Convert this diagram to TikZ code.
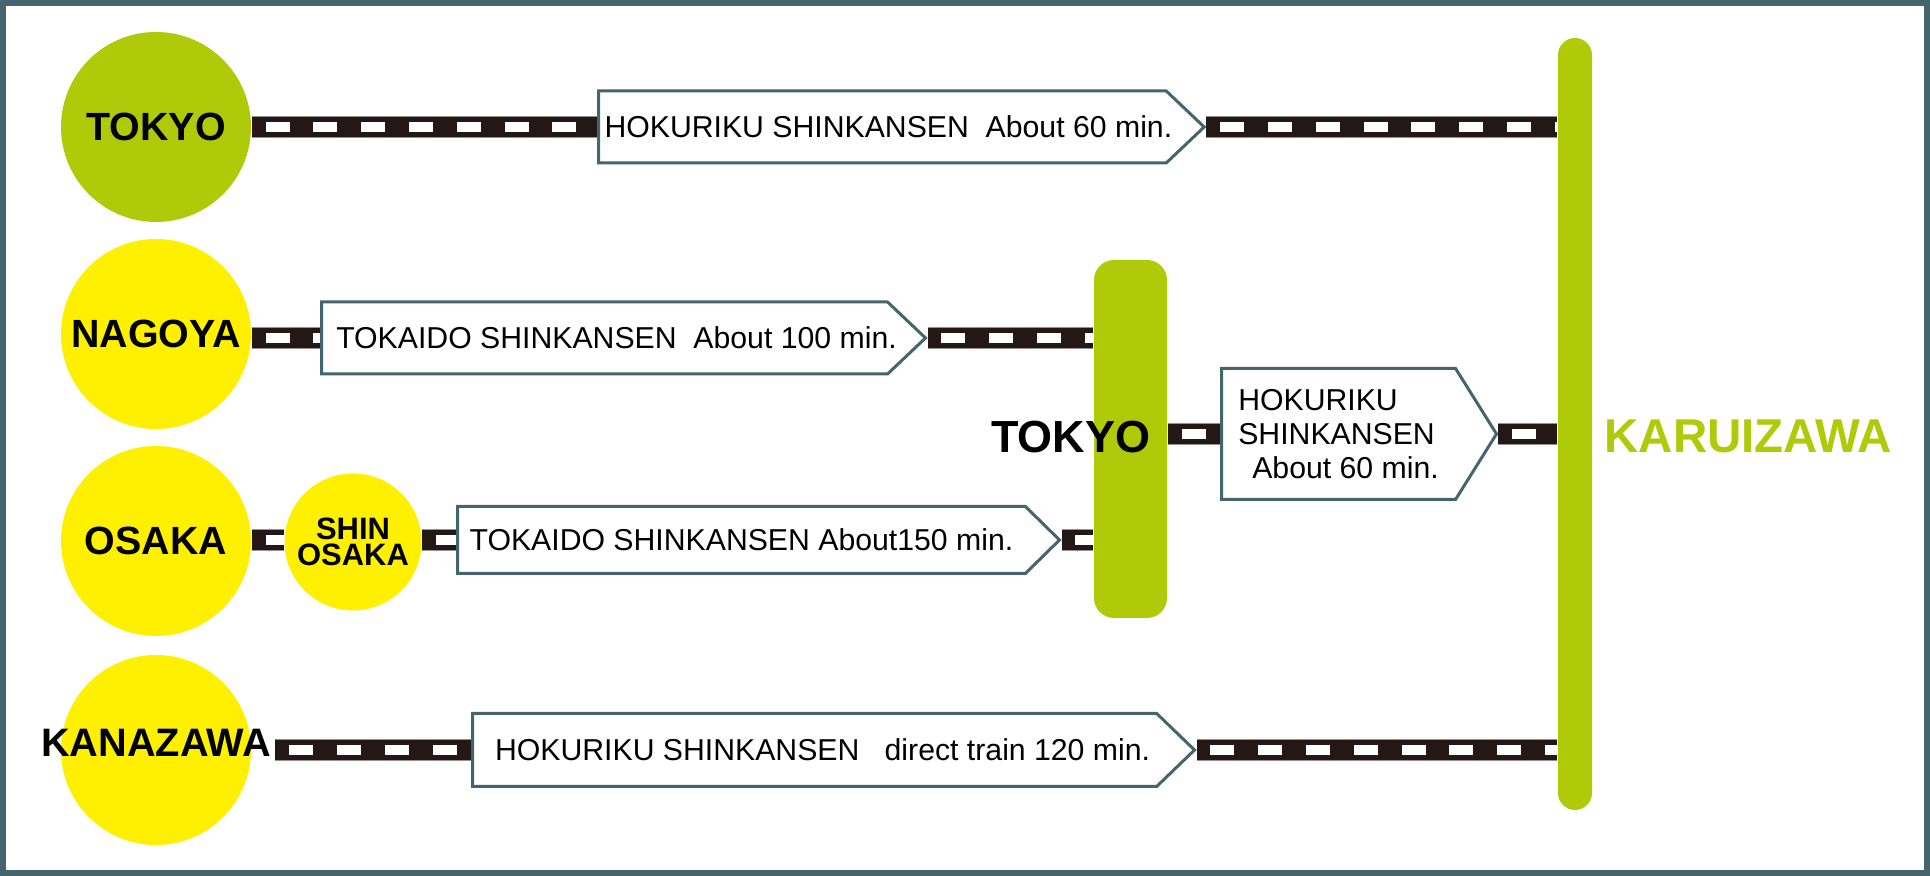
\documentclass[tikz,border=0pt]{standalone}
\usepackage{fontspec}
\setmainfont{Liberation Sans}
\usetikzlibrary{shapes.symbols,backgrounds}
\definecolor{slate}{RGB}{69,101,110}
\definecolor{leaf}{RGB}{174,202,8}
\definecolor{lemon}{RGB}{255,240,0}
\definecolor{railc}{RGB}{35,24,21}
\definecolor{railedge}{RGB}{150,146,145}
\newcommand\nudge[2]{\hspace*{#1}#2\hspace*{-#1}}
\begin{document}
\begin{tikzpicture}[
        station/.style={circle, minimum size=1.9cm, inner sep=0pt, font=\bfseries\fontsize{11.2}{12}\selectfont},
        tag/.style={signal, signal to=east, draw=slate, line width=0.03cm, fill=white, inner sep=0pt, anchor=west,
          align=left, font=\fontsize{8.6}{9.7}\selectfont},
        bar/.style={fill=leaf, inner sep=0pt},
        rail/.style={draw=railc, line width=0.2cm, preaction={draw=railedge, line width=0.22cm},
          postaction={draw=white, line width=0.1cm, dash pattern=on 0.24cm off 0.238cm, dash phase=0.34cm}}]
      \useasboundingbox (0,0) rectangle (19.30,-8.76);
      \draw[slate, line width=0.06cm] (0.03,-0.03) rectangle (19.27,-8.73);
      \node[station, fill=leaf]  (tokyo)  at (1.56,-1.27) {TOKYO};
      \node[station, fill=lemon] (nagoya) at (1.56,-3.34) {NAGOYA};
      \node[station, fill=lemon] (osaka)  at (1.56,-5.41) {OSAKA};
      \node[station, fill=lemon, minimum size=1.37cm, align=center, font=\bfseries\fontsize{8.8}{7.5}\selectfont]
        (shinosaka) at (3.53,-5.42) {SHIN\\OSAKA};
      \node[station, fill=lemon, label={[name=kanazawaname, yshift=0.07cm, inner sep=0.04cm,
          font=\bfseries\fontsize{11.3}{12}\selectfont]center:KANAZAWA}]
        (kanazawa) at (1.56,-7.50) {};
      \node[bar, rounded corners=0.2cm, minimum width=0.73cm, minimum height=3.58cm] (tokyobar) at (11.305,-4.39) {};
      \node[bar, rounded corners=0.17cm, minimum width=0.34cm, minimum height=7.72cm] (karuizawa) at (15.75,-4.24) {};
      \node[anchor=east, inner sep=0pt, font=\bfseries\fontsize{12.8}{14}\selectfont] (tokyoname) at (11.51,-4.37) {TOKYO};
      \node[anchor=west, inner sep=0pt, text=leaf, font=\bfseries\fontsize{13.5}{15}\selectfont] (karuizawaname) at (16.04,-4.36) {KARUIZAWA};
      \node[tag, signal pointer angle=87, minimum width=6.05cm, minimum height=0.72cm] (hok1) at (5.97,-1.27)
        {\nudge{0.06cm}{HOKURIKU SHINKANSEN\ \ About 60 min.}};
      \node[tag, signal pointer angle=87, minimum width=6.04cm, minimum height=0.72cm] (tok2) at (3.20,-3.38)
        {\nudge{0.12cm}{TOKAIDO SHINKANSEN\ \ About 100 min.}};
      \node[tag, signal pointer angle=89, minimum width=6.02cm, minimum height=0.67cm] (tok3) at (4.56,-5.40)
        {TOKAIDO SHINKANSEN About150 min.};
      \node[tag, signal pointer angle=116, minimum width=2.75cm, minimum height=1.31cm] (hok5) at (12.20,-4.34)
        {HOKURIKU\\SHINKANSEN\\\hspace{0.14cm}About 60 min.};
      \node[tag, signal pointer angle=88, minimum width=7.22cm, minimum height=0.73cm] (hok4) at (4.71,-7.50)
        {\nudge{0.08cm}{HOKURIKU SHINKANSEN\ \ \ direct train 120 min.}};
      \begin{pgfonlayer}{background}
        \draw[rail] (tokyo.east) -- (hok1.west);
        \draw[rail] (hok1.east) -- (hok1.east -| karuizawa.west);
        \draw[rail] (nagoya.east |- tok2.west) -- (tok2.west);
        \draw[rail] (tok2.east) -- (tok2.east -| tokyobar.west);
        \draw[rail] (osaka.east |- tok3.west) -- (shinosaka.west |- tok3.west);
        \draw[rail] (shinosaka.east |- tok3.west) -- (tok3.west);
        \draw[rail] (tok3.east) -- (tok3.east -| tokyobar.west);
        \draw[rail] (tokyobar.east |- hok5.west) -- (hok5.west);
        \draw[rail] (hok5.east) -- (hok5.east -| karuizawa.west);
        \draw[rail] (kanazawaname.east |- hok4.west) -- (hok4.west);
        \draw[rail] (hok4.east) -- (hok4.east -| karuizawa.west);
      \end{pgfonlayer}
    \end{tikzpicture}
\end{document}
